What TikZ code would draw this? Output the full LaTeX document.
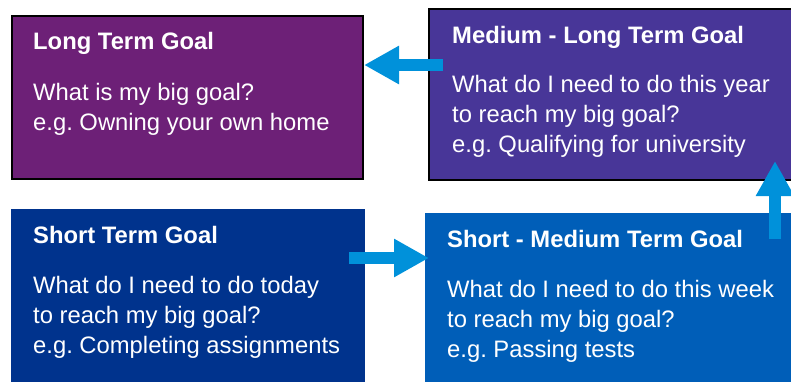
\documentclass[tikz,border=0pt]{standalone}
\usepackage{fontspec}
\setmainfont{Liberation Sans}
\usetikzlibrary{arrows.meta}
\frenchspacing
\definecolor{kpurple}{HTML}{6D2077}
\definecolor{kviolet}{HTML}{483698}
\definecolor{kblue}{HTML}{00338D}
\definecolor{kmedblue}{HTML}{005EB8}
\definecolor{klight}{HTML}{0091DA}
\tikzset{
  box/.style={draw=black, line width=1.5pt, inner sep=0pt, outer sep=0pt},
  title/.style={anchor=base west, inner sep=0pt, text=white, font=\fontsize{23.8}{30}\selectfont\bfseries\frenchspacing},
  body/.style={anchor=base west, inner sep=0pt, text=white, align=left, font=\fontsize{23.8}{30}\selectfont\frenchspacing},
  goalarrow/.style={draw=klight, line width=12pt, -{Triangle[length=35pt,width=36pt]}}
}
\begin{document}
\begin{tikzpicture}[x=1pt,y=-1pt]
\useasboundingbox (0,0) rectangle (791,381);
% boxes
\filldraw[box, fill=kpurple] (12,16) rectangle (363,179);
\filldraw[box, fill=kviolet] (429,9) rectangle (800,180);
\fill[kblue] (11,209) rectangle (365,390);
\fill[kmedblue] (425,213) rectangle (800,390);
% texts (body nodes anchored at the baseline of their last line)
\node[title] (lt) at (33,49) {Long Term Goal};
\node[body] (ltb) at (33,130) {What is my big goal?\\e.g. Owning your own home};
\node[title] (ml) at (452,43) {Medium - Long Term Goal};
\node[body] (mlb) at (452,152) {What do I need to do this year\\to reach my big goal?\\e.g. Qualifying for university};
\node[title] (st) at (33,243) {Short Term Goal};
\node[body] (stb) at (33,353) {What do I need to do today\\to reach my big goal?\\e.g. Completing assignments};
\node[title] (sm) at (447,247) {Short - Medium Term Goal};
\node[body] (smb) at (447,357) {What do I need to do this week\\to reach my big goal?\\e.g. Passing tests};
% arrows
\coordinate (a1s) at (443,65);
\coordinate (a1e) at (364,65);
\coordinate (a2s) at (349,258);
\coordinate (a2e) at (429,258);
\coordinate (a3s) at (775,239);
\coordinate (a3e) at (775,161);
\draw[goalarrow] (a1s) -- (a1e);
\draw[goalarrow] (a2s) -- (a2e);
\draw[goalarrow] (a3s) -- (a3e);
\end{tikzpicture}
\end{document}
